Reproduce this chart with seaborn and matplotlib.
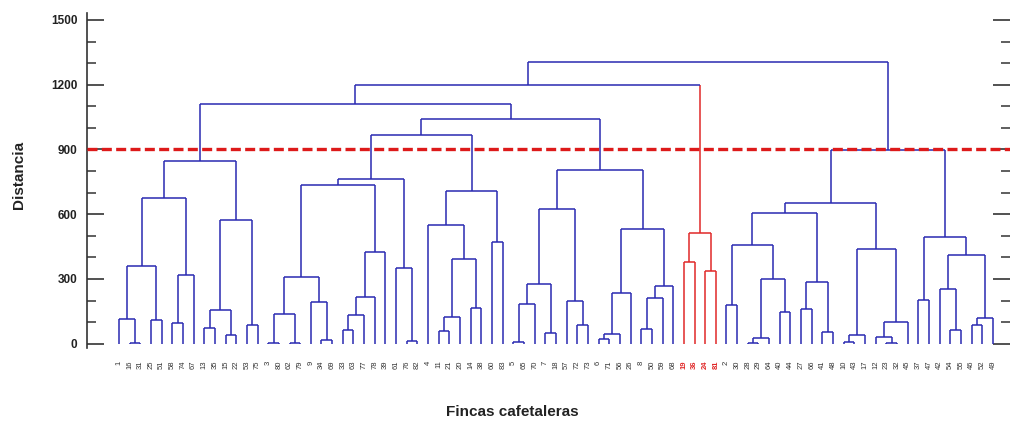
import matplotlib
matplotlib.use("Agg")
import matplotlib.pyplot as plt
import seaborn as sns

# ---------------- data ----------------
leaf_labels = [1, 16, 31, 25, 51, 58, 74, 67, 13, 35, 15, 22, 53, 75, 3, 80, 62, 79, 9, 34,
               69, 33, 63, 77, 78, 39, 61, 76, 82, 4, 11, 21, 20, 14, 38, 60, 83, 5, 65, 70,
               7, 18, 57, 72, 73, 6, 71, 56, 26, 8, 50, 59, 68, 19, 36, 24, 81, 2, 30, 28,
               29, 64, 40, 44, 27, 66, 41, 48, 10, 43, 17, 12, 23, 32, 45, 37, 47, 42, 54, 55,
               46, 52, 49]

# merges: ints are leaf labels, "mK" refers to merge number K
merge_left = [16, 1, 25, "m1", 58, "m4", "m3", 13, 15, "m7",
              53, "m9", "m6", 3, 62, "m13", 34, 9, "m15", 33,
              "m19", "m20", "m21", "m18", 76, 61, "m23", 11, "m27", 14,
              "m28", 4, 60, "m31", "m26", 5, "m35", 7, "m36", 72,
              57, "m38", 6, "m42", "m43", 8, "m45", "m46", "m44", "m41",
              "m34", "m12", 19, 24, "m52", "m51", 2, 28, "m57", 40,
              "m58", "m56", 27, 41, "m62", "m61", 10, "m66", 23, 12,
              "m69", "m67", "m65", 37, 54, 42, 46, "m76", "m75", "m73",
              "m72", "m55"]
merge_right = [31, "m0", 51, "m2", 74, 67, "m5", 35, 22, "m8",
               75, "m10", "m11", 80, 79, "m14", 69, "m16", "m17", 63,
               77, 78, 39, "m22", 82, "m24", "m25", 21, 20, 38,
               "m29", "m30", 83, "m32", "m33", 65, 70, 18, "m37", 73,
               "m39", "m40", 71, 56, 26, 50, 59, 68, "m47", "m48",
               "m49", "m50", 36, 81, "m53", "m54", 30, 29, 64, 44,
               "m59", "m60", 66, 48, "m63", "m64", 43, 17, 32, "m68",
               45, "m70", "m71", 47, 55, "m74", 52, 49, "m77", "m78",
               "m79", "m80"]
merge_height = [5, 115, 108, 361, 98, 318, 677, 71, 42, 154,
                85, 575, 845, 5, 5, 138, 18, 191, 311, 62,
                134, 218, 423, 734, 14, 349, 765, 57, 123, 165,
                392, 548, 471, 708, 965, 6, 183, 48, 275, 88,
                200, 626, 20, 43, 237, 70, 213, 267, 530, 803,
                1043, 1112, 378, 335, 511, 1200, 180, 5, 26, 147,
                298, 459, 162, 52, 286, 604, 9, 39, 3, 31,
                100, 440, 654, 202, 63, 255, 85, 120, 413, 496,
                897, 1305]

red_leaves = [19, 36, 24, 81]
cut_height = 900
y_major = [0, 300, 600, 900, 1200, 1500]
y_minor = list(range(0, 1501, 100))

BLUE = "#2a2ab2"
RED = "#e02828"

# ---------------- figure ----------------
sns.set_theme(style="white")
plt.rcParams['font.family'] = ['Liberation Sans', 'DejaVu Sans']

W, H = 1011, 423
fig = plt.figure(figsize=(W / 100, H / 100), dpi=100)
ax_left, ax_right, ax_top, ax_bot = 87, 1010, 13.5, 348
ax = fig.add_axes([ax_left / W, (H - ax_bot) / H,
                   (ax_right - ax_left) / W, (ax_bot - ax_top) / H])

pos = {lab: i for i, lab in enumerate(leaf_labels)}
node_x, node_y, node_red = {}, {}, {}


def info(child):
    if isinstance(child, str):
        return node_x[child], node_y[child], node_red[child]
    return pos[child], 0.0, child in red_leaves


for k, (a, b, h) in enumerate(zip(merge_left, merge_right, merge_height)):
    xa, ya, ra = info(a)
    xb, yb, rb = info(b)
    name = f"m{k}"
    red = ra and rb
    node_x[name] = (xa + xb) / 2
    node_y[name] = h
    node_red[name] = red
    ax.plot([xa, xa], [ya, h], color=RED if ra else BLUE, lw=1.1, solid_capstyle="butt", zorder=2)
    ax.plot([xb, xb], [yb, h], color=RED if rb else BLUE, lw=1.1, solid_capstyle="butt", zorder=2)
    ax.plot([xa, xb], [h, h], color=RED if red else BLUE, lw=1.1, solid_capstyle="butt", zorder=2)

ax.axhline(cut_height, color="#dd1a1a", lw=2.4, ls=(0, (3.0, 1.3)), zorder=4)

ax.set_xlim(-3.0, 83.6)
ax.set_ylim(-20, 1530)

ax.set_yticks(y_major)
ax.set_yticks(y_minor, minor=True)
ax.set_yticklabels([str(v) for v in y_major], fontweight="bold", fontsize=8.5, color="#222222")
ax.tick_params(axis="y", which="major", direction="in", length=12, width=1.2,
               left=True, right=True, pad=7, colors="#333333", labelcolor="#222222")
ax.tick_params(axis="y", which="minor", direction="in", length=6.5, width=1.1,
               left=True, right=True, colors="#333333")

ax.set_xticks(range(len(leaf_labels)))
ax.set_xticklabels([str(v) for v in leaf_labels], rotation=90, fontsize=5.5)
ax.tick_params(axis="x", length=0, pad=9, labelcolor="#333333")
for t, lab in zip(ax.get_xticklabels(), leaf_labels):
    if lab in red_leaves:
        t.set_color(RED)
        t.set_fontweight("bold")

for s in ["top", "bottom", "right"]:
    ax.spines[s].set_visible(False)
ax.spines["left"].set_color("#333333")
ax.spines["left"].set_linewidth(1.2)
ax.grid(False)

ax.set_ylabel("Distancia", fontsize=11, fontweight="bold", color="#222222")
ax.yaxis.set_label_coords(-0.066, 0.517)
ax.set_xlabel("Fincas cafetaleras", fontsize=11, fontweight="bold", color="#222222")
ax.xaxis.set_label_coords(0.4605, -0.170)

fig.savefig("out.png", dpi=100)
